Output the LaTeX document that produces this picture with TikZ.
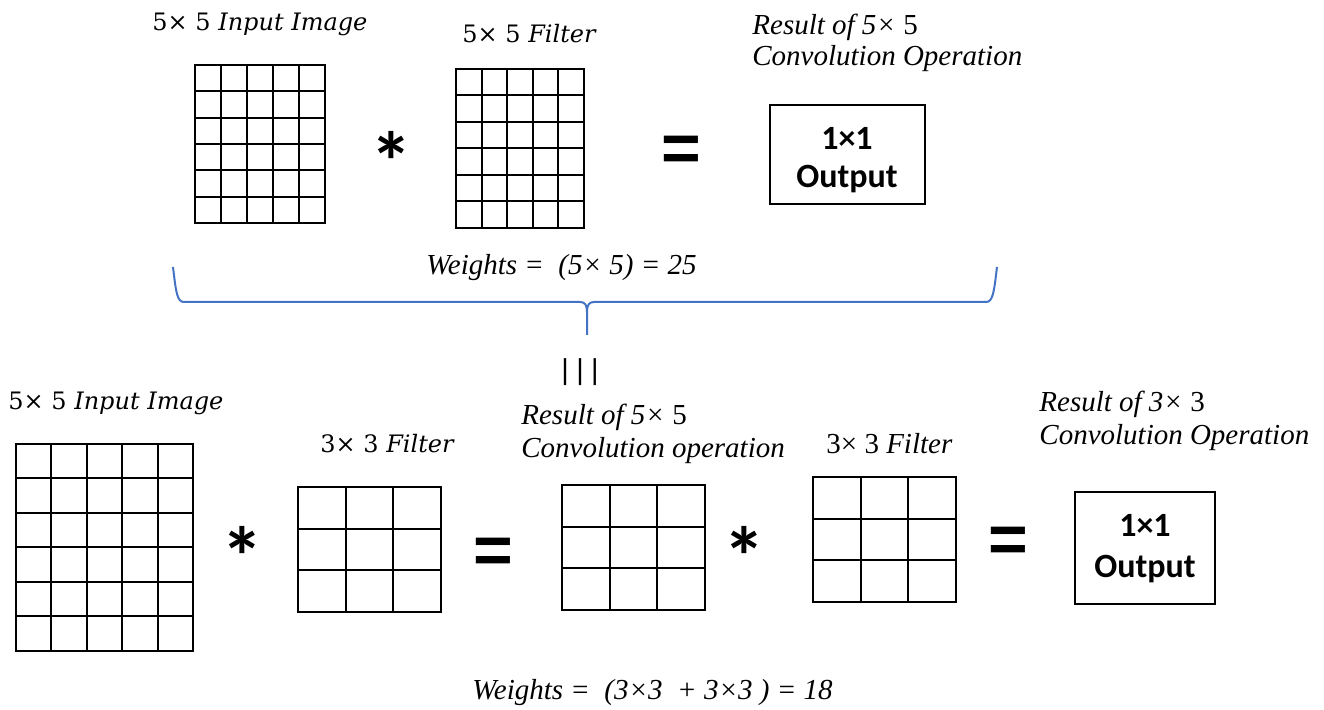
\documentclass[tikz,border=0pt]{standalone}
\usepackage{fontspec}
\setmainfont{Liberation Serif}
\newfontfamily\calfont{Carlito}
\newfontfamily\arialfont{Liberation Sans}
\newfontfamily\cambfont{DejaVu Serif}
\definecolor{braceblue}{HTML}{4472C4}
\tikzset{
  cellframe/.style={draw=black, line width=1pt, inner sep=0pt, outer sep=0pt},
  cellline/.style={draw=black, line width=1pt},
  outbox/.style={draw=black, line width=1pt, inner sep=0pt, outer sep=0pt},
  outtext/.style={anchor=base, inner sep=0pt, font=\calfont\bfseries\fontsize{17}{19}\selectfont},
  mathlabel/.style={anchor=base west, inner sep=0pt, font=\cambfont\fontsize{12}{14}\selectfont},
  itlabel/.style={anchor=base west, inner sep=0pt, font=\itshape\fontsize{14.5}{17}\selectfont},
  opsym/.style={inner sep=0pt, font=\arialfont\bfseries\fontsize{34}{36}\selectfont},
  starsym/.style={anchor=base, inner sep=0pt, font=\calfont\bfseries\fontsize{42}{44}\selectfont},
  bracestyle/.style={draw=braceblue, line width=1pt, line join=round},
}
% #1 name, #2 x0, #3 y0, #4 x1, #5 y1, #6 cols, #7 rows
\newcommand\convgrid[7]{%
  \node[cellframe, minimum width={(#4-#2)*0.5pt}, minimum height={(#5-#3)*0.5pt}] (#1) at ({(#2+#4)/2},{(#3+#5)/2}) {};
  \pgfmathtruncatemacro\gnc{#6-1}%
  \pgfmathtruncatemacro\gnr{#7-1}%
  \foreach \k in {1,...,\gnc} {\draw[cellline] ({#2+(#4-#2)*\k/#6},#3) -- ({#2+(#4-#2)*\k/#6},#5);}
  \foreach \k in {1,...,\gnr} {\draw[cellline] (#2,{#3+(#5-#3)*\k/#7}) -- (#4,{#3+(#5-#3)*\k/#7});}
}
\begin{document}
\begin{tikzpicture}[x=0.5pt,y=-0.5pt]
\fill[white] (0,0) rectangle (1324,710);
\useasboundingbox (0,0) rectangle (1324,710);

% ---------- top row ----------
\node[mathlabel] (inlab1) at (152,31) {5× 5 \itshape Input Image};
\node[mathlabel] (filab1) at (462,43) {5× 5 \itshape Filter};
\node[itlabel] (res1a) at (752,35) {Result of 5× \upshape 5};
\node[itlabel] (res1b) at (752,66) {Convolution Operation};

\convgrid{g1}{195}{65}{325}{223}{5}{6}
\convgrid{g2}{456}{69}{584}{228}{5}{6}
\node[starsym] (s1) at (391,192) {*};
\node[opsym] (e1) at (681,154) {=};
\node[outbox, minimum width={155*0.5pt}, minimum height={99*0.5pt}] (out1) at (847.5,154.5) {};
\node[outtext] (out1a) at (847,150) {1×1};
\node[outtext] (out1b) at (847,188) {Output};

\node[itlabel] (w1) at (426,275) {Weights = \ (5× 5) = 25};

% ---------- brace ----------
\draw[bracestyle] (173,267) .. controls (176,292) and (177,302) .. (184,302) -- (580,302) .. controls (585,302) and (587,305) .. (587,312) -- (587,335);
\draw[bracestyle] (997,267) .. controls (994,292) and (993,302) .. (986,302) -- (594,302) .. controls (589,302) and (587,305) .. (587,312);

\node[inner sep=0pt, font=\arialfont\fontsize{14.4}{16}\selectfont] (eqv) at (580,372) {|\hspace{3.75pt}|\hspace{3.75pt}|};

% ---------- bottom row ----------
\node[mathlabel] (inlab2) at (8,410) {5× 5 \itshape Input Image};
\node[mathlabel] (filab2) at (320,453) {3× 3 \itshape Filter};
\node[itlabel] (res2a) at (521,425) {Result of 5× \upshape 5};
\node[itlabel] (res2b) at (521,458) {Convolution operation};
\node[itlabel] (filab3) at (826,454) {\upshape 3× 3 \itshape Filter};
\node[itlabel] (res3a) at (1039,412) {Result of 3× \upshape 3};
\node[itlabel] (res3b) at (1039,445) {Convolution Operation};

\convgrid{g3}{16}{444}{193}{651}{5}{6}
\convgrid{g4}{298}{487}{441}{612}{3}{3}
\convgrid{g5}{562}{485}{705}{610}{3}{3}
\convgrid{g6}{813}{477}{956}{602}{3}{3}

\node[starsym] (s2) at (242,587) {*};
\node[opsym] (e2) at (493,556) {=};
\node[starsym] (s3) at (744,587) {*};
\node[opsym] (e3) at (1008,545) {=};
\node[outbox, minimum width={140*0.5pt}, minimum height={112*0.5pt}] (out2) at (1145,548) {};
\node[outtext] (out2a) at (1145,537) {1×1};
\node[outtext] (out2b) at (1145,578) {Output};

\node[itlabel] (w2) at (472,700) {Weights = \ (3×3 \ + 3×3 ) = 18};
\end{tikzpicture}
\end{document}
